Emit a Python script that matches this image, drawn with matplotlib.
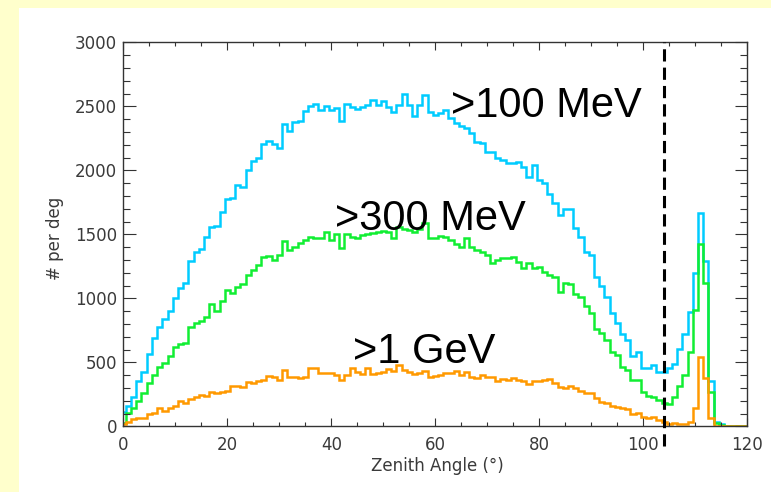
import matplotlib.pyplot as plt
import numpy as np
from matplotlib.patches import Rectangle

# zenith angle histograms, one value per degree (bins centred on 0..120)
gt100_mev = [110, 160, 232, 357, 427, 563, 693, 773, 841, 901,
             1000, 1078, 1117, 1292, 1359, 1388, 1479, 1560, 1565, 1672,
             1776, 1786, 1885, 1870, 2005, 2073, 2099, 2203, 2229, 2208,
             2172, 2359, 2310, 2375, 2385, 2464, 2500, 2516, 2471, 2505,
             2471, 2490, 2388, 2518, 2498, 2477, 2493, 2513, 2550, 2513,
             2539, 2498, 2458, 2513, 2596, 2513, 2424, 2513, 2588, 2458,
             2432, 2445, 2471, 2406, 2367, 2350, 2330, 2290, 2224, 2211,
             2146, 2146, 2094, 2081, 2055, 2055, 2068, 2029, 1951, 2042,
             1924, 1900, 1812, 1742, 1650, 1695, 1700, 1547, 1481, 1360,
             1338, 1169, 1098, 1012, 882, 804, 718, 674, 549, 583,
             453, 453, 479, 421, 421, 453, 487, 604, 718, 895,
             1195, 1669, 1294, 357, 37, 18, 0, 0, 0, 0, 0]

gt300_mev = [26, 104, 141, 200, 258, 336, 401, 461, 492, 549,
             622, 643, 653, 778, 805, 825, 856, 955, 903, 981,
             1065, 1044, 1086, 1112, 1182, 1221, 1260, 1325, 1333, 1300,
             1339, 1448, 1378, 1404, 1430, 1456, 1482, 1469, 1474, 1521,
             1456, 1503, 1391, 1500, 1477, 1469, 1495, 1500, 1513, 1521,
             1529, 1521, 1474, 1555, 1542, 1534, 1521, 1542, 1586, 1474,
             1469, 1487, 1482, 1456, 1422, 1404, 1469, 1404, 1378, 1365,
             1339, 1274, 1300, 1318, 1318, 1326, 1287, 1235, 1279, 1235,
             1248, 1208, 1182, 1169, 1052, 1117, 1109, 1034, 1007, 940,
             888, 760, 726, 674, 583, 557, 466, 440, 362, 362,
             271, 237, 226, 206, 180, 172, 226, 315, 401, 583,
             909, 1425, 1122, 271, 23, 10, 0, 0, 0, 0, 0]

gt1_gev = [18, 36, 55, 62, 62, 96, 106, 140, 122, 140,
           159, 200, 185, 213, 232, 247, 237, 265, 258, 268,
           279, 315, 318, 310, 344, 340, 357, 362, 396, 388,
           362, 440, 388, 388, 375, 388, 453, 453, 414, 414,
           414, 401, 362, 401, 453, 427, 406, 453, 406, 414,
           427, 448, 432, 479, 440, 427, 406, 414, 432, 388,
           396, 401, 419, 414, 432, 401, 427, 388, 380, 401,
           388, 388, 354, 370, 362, 375, 362, 354, 328, 354,
           355, 362, 367, 341, 304, 297, 315, 297, 278, 263,
           263, 224, 187, 179, 161, 153, 140, 132, 96, 106,
           75, 62, 70, 49, 36, 18, 28, 18, 18, 36,
           140, 539, 380, 67, 3, 3, 3, 3, 3, 3, 3]

labels = ['>100 MeV', '>300 MeV', '>1 GeV']
label_x = [63.0, 40.8, 44.2]
label_y = [2416, 1534, 495]
earth_limb = 104

edges = np.arange(len(gt100_mev) + 1) - 0.5

fig = plt.figure(figsize=(7.71, 4.92), dpi=100)
fig.patch.set_facecolor('#FFFFCC')
fig.patches.append(Rectangle((19 / 771, 0), 1 - 19 / 771, 484 / 492,
                             transform=fig.transFigure, facecolor='white',
                             edgecolor='none', zorder=-10))

ax = fig.add_axes([123.3 / 771, 1 - 426.3 / 492, 624 / 771, 384 / 492])
ax.set_facecolor('white')

ax.stairs(gt100_mev, edges, baseline=None, color='#00CCFF', lw=1.8)
ax.stairs(gt300_mev, edges, baseline=None, color='#11EE33', lw=1.8)
ax.stairs(gt1_gev, edges, baseline=None, color='#FF9900', lw=1.8)

ax.plot([earth_limb, earth_limb], [-150, 3000], color='black', lw=2.2,
        dashes=(4.0, 2.0), clip_on=False, zorder=5)

for txt, x, y in zip(labels, label_x, label_y):
    ax.text(x, y, txt, fontsize=30, family='Liberation Sans',
            ha='left', va='baseline', color='black')

ax.set_xlim(0, 120)
ax.set_ylim(0, 3000)
ax.set_xticks(np.arange(0, 121, 20))
ax.set_xticks(np.arange(0, 121, 5), minor=True)
ax.set_yticks(np.arange(0, 3001, 500))
ax.set_yticks(np.arange(0, 3001, 100), minor=True)

ax.tick_params(axis='both', which='both', direction='in', top=True,
               right=True, colors='#333333', width=0.8, labelsize=12,
               labelcolor='#3a3a3a')
ax.tick_params(axis='x', which='major', length=5.8, pad=7)
ax.tick_params(axis='x', which='minor', length=3.2)
ax.tick_params(axis='y', which='major', length=9, pad=4.5)
ax.tick_params(axis='y', which='minor', length=4.7)

for s in ax.spines.values():
    s.set_color('#333333')
    s.set_linewidth(1.0)

ax.set_xlabel('Zenith Angle (°)', fontsize=12, color='#3a3a3a', va='top')
ax.xaxis.set_label_coords(0.503, -0.080)
ax.set_ylabel('# per deg', fontsize=12, color='#3a3a3a')
ax.yaxis.set_label_coords(-0.095, 0.49)

fig.savefig('out.png', dpi=100, facecolor=fig.get_facecolor())
